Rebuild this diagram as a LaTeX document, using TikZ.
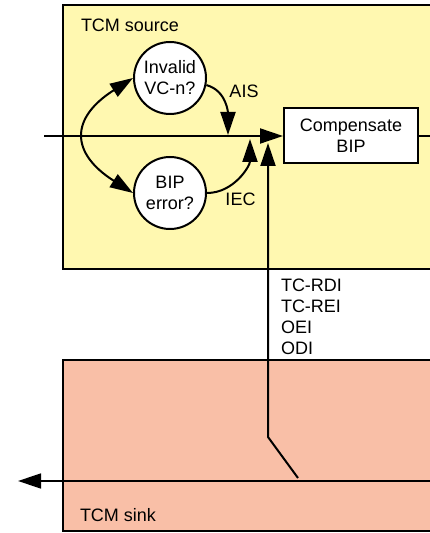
\documentclass[tikz,border=0pt]{standalone}
\usepackage{fontspec}
\setmainfont{Liberation Sans}
\usetikzlibrary{positioning,calc,arrows.meta}
\definecolor{srcyellow}{RGB}{255,248,176}
\definecolor{sinksalmon}{RGB}{249,191,167}
\tikzset{testvert/.style={draw,circle,fill=white,line width=2pt,minimum size=72pt,inner sep=0pt,align=center}  }
\tikzset{procbox/.style={draw,rectangle,fill=white,line width=2pt,minimum width=134pt,minimum height=55pt,inner sep=0pt,align=center}  }
\tikzset{lbl/.style={inner sep=0pt,align=left}  }
\tikzset{>={Triangle[length=23pt,width=15pt]}}

\begin{document}
\begin{tikzpicture}[x=1pt,y=1pt,line width=2pt,font=\fontsize{18}{21}\selectfont]
\useasboundingbox (0,0) rectangle (430,533);
\clip (0,0) rectangle (430,533);
\begin{scope}
    % the two blocks
    \draw[fill=srcyellow] (63,264) rectangle (450,528);
    \draw[fill=sinksalmon] (63,1.5) rectangle (450,173);

    \node[lbl,anchor=north west] (src) at (80,515) {TCM source};
    \node[lbl,anchor=north west] (sink) at (79,26) {TCM sink};

    \node[testvert] (inv) at (170,455) {Invalid\\VC-n?};
    \node[testvert] (bip) at (170,340) {BIP\\error?};
    \node[procbox] (comp) at (351,397) {Compensate\\BIP};

    \coordinate (in) at (44,397);
    \coordinate (out) at (450,397);
    \coordinate (aistip) at (228,398);
    \coordinate (iectip) at (250,394);
    \coordinate (swtip) at (268,390);
    \coordinate (sw1) at (268,96);
    \coordinate (sw2) at (298,55);
    \coordinate (sinkR) at (450,52);
    \coordinate (sinkL) at (18,52);

    \draw[->] (in) -- (comp.west);
    \draw (comp.east) -- (out);

    \draw[<->] (inv.180) .. controls (70,415) and (70,380) .. (bip.180);
    \draw[->] (inv.-11) to[out=-15,in=90] (aistip);
    \draw[->] (bip.0) to[out=0,in=-90] (iectip);
    \node[lbl] (ais) at (244,442) {AIS};
    \node[lbl] (iec) at (240.5,333.5) {IEC};

    % remote indications
    \draw[<-] (swtip) -- (sw1) -- (sw2);
    \draw[->,line width=1.4pt] (sinkR) -- (sinkL);
    \node[lbl,anchor=north west] (sig) at (280,255) {TC-RDI\\TC-REI\\OEI\\ODI};
\end{scope}
\end{tikzpicture}
\end{document}
